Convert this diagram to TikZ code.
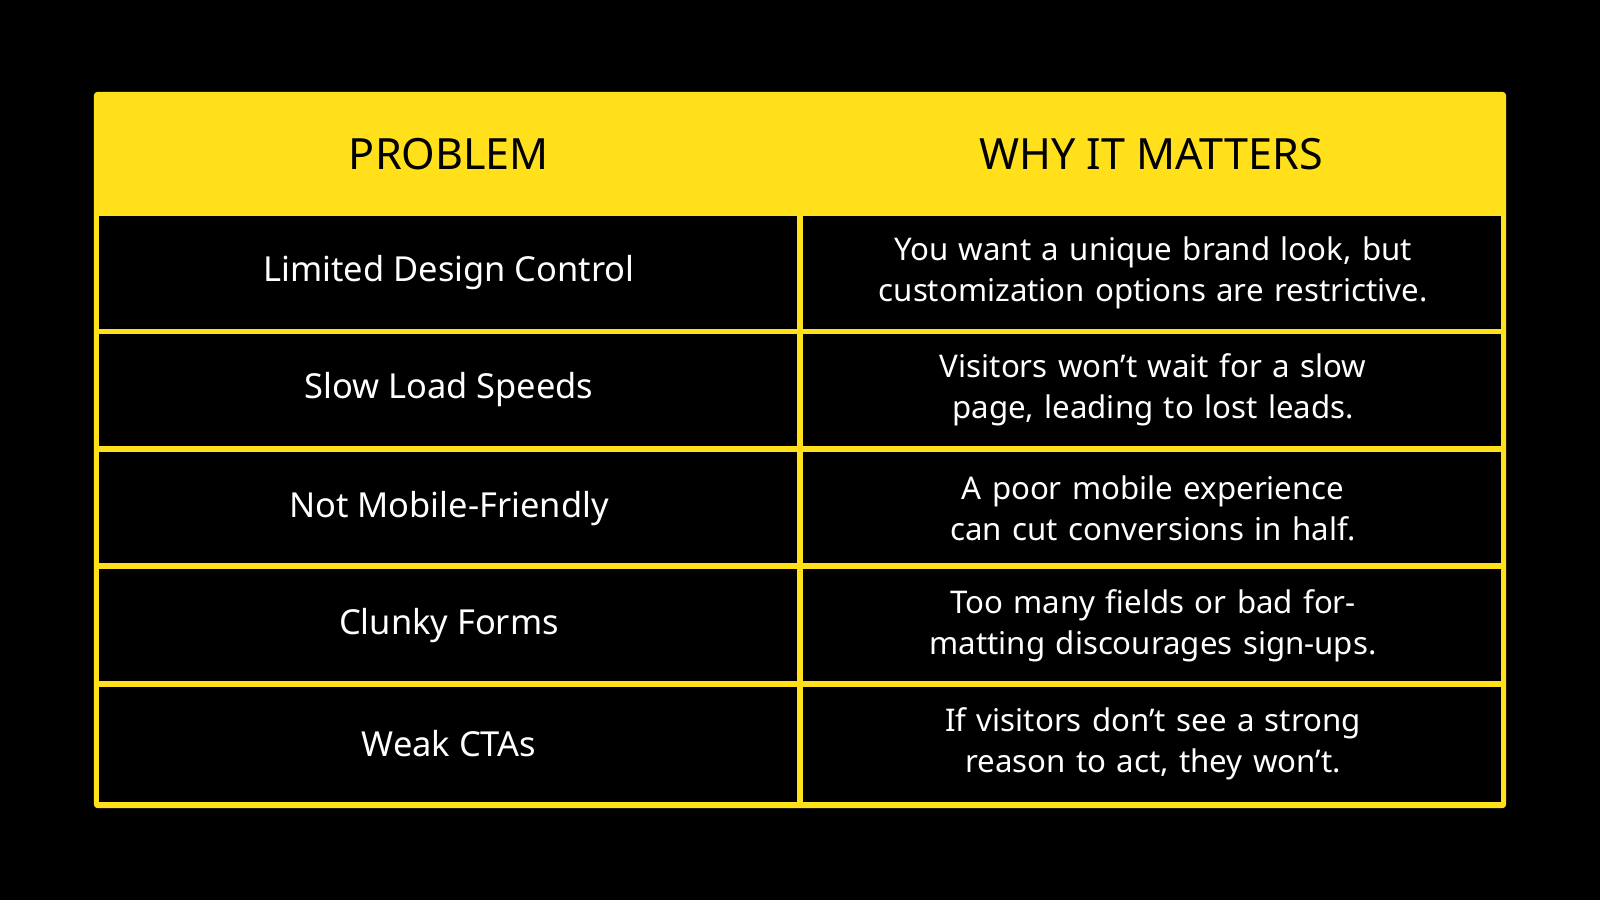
\documentclass[tikz,border=0pt]{standalone}
\usepackage{fontspec}
\setmainfont{Noto Sans}
\definecolor{tabyellow}{HTML}{FFE01B}
\tikzset{
  headtext/.style={font=\fontsize{12}{14}\selectfont\bfseries, text=black},
  probtext/.style={font=\fontsize{9.6}{11.4}\selectfont\bfseries, text=white},
  whytext/.style={font=\fontsize{8.7}{11.4}\selectfont, text=white, align=center, text width=5.9cm},
}
\begin{document}
\begin{tikzpicture}[x=0.01cm, y=-0.01cm]
  \fill[black] (0, 0) rectangle (1568, 882);
  \useasboundingbox (0, 0) rectangle (1568, 882);
  % table frame and header
  \fill[tabyellow, rounded corners=1pt] (92, 90) rectangle (1476, 792);
  \foreach \i/\top/\bot in {1/212/322, 2/327/437, 3/443/552, 4/558/667, 5/673/786} {
    \fill[black] (97, \top) rectangle (781, \bot);
    \fill[black] (787, \top) rectangle (1471, \bot);
  }
  \node[headtext] (headprob) at (440, 151) {PROBLEM};
  \node[headtext] (headwhy) at (1128, 151) {WHY IT MATTERS};
  % rows
  \foreach \i/\y/\prob/\why in {
    1/267/{Limited Design Control}/{You want a unique brand look, but customization options are restrictive.},
    2/382/{Slow Load Speeds}/{Visitors won’t wait for a slow page, leading to lost leads.},
    3/498/{Not Mobile-Friendly}/{A poor mobile experience can cut conversions in half.},
    4/613/{Clunky Forms}/{Too many fields or bad formatting discourages sign-ups.},
    5/729/{Weak CTAs}/{If visitors don’t see a strong reason to act, they won’t.}} {
    \node[probtext] (prob\i) at (440, \y) {\prob};
    \node[whytext] (why\i) at (1130, \y) {\why};
  }
\end{tikzpicture}
\end{document}
